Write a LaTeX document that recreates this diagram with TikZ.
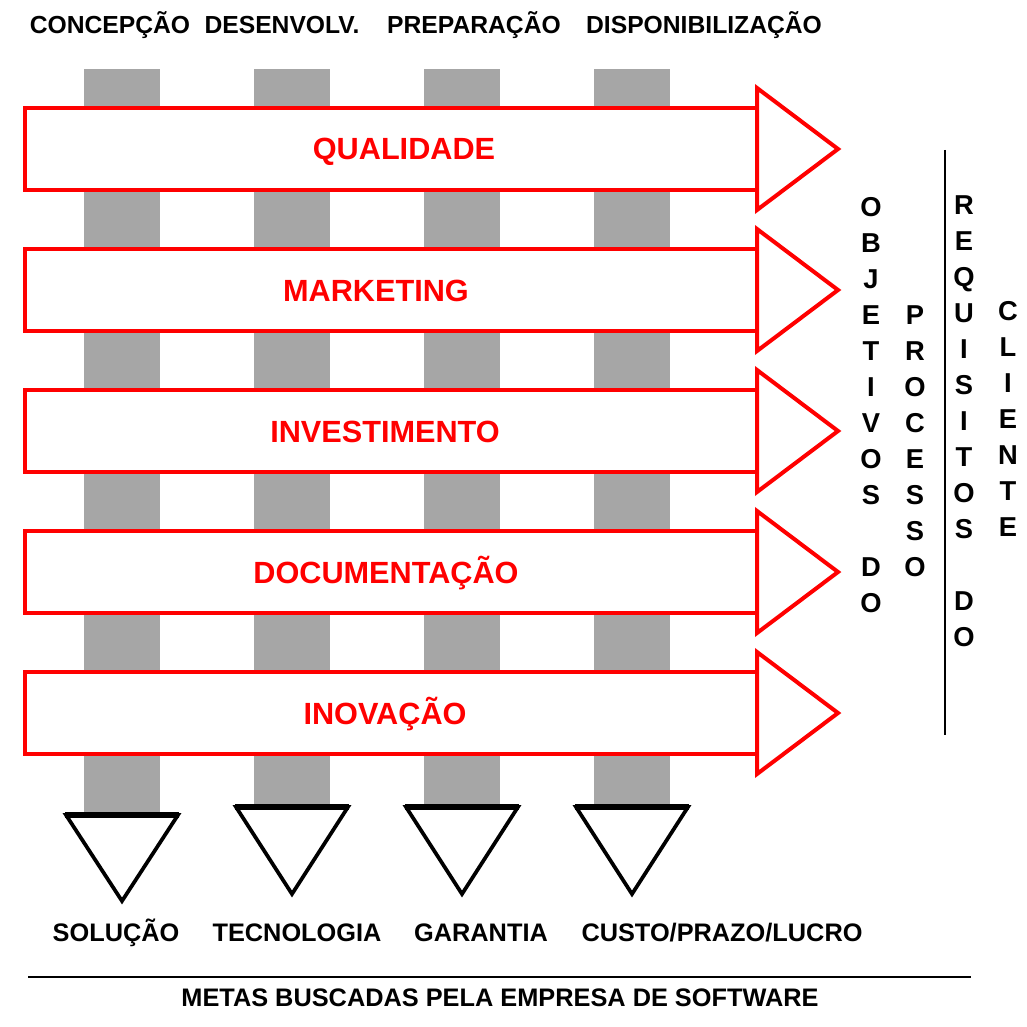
\documentclass[tikz,border=0pt]{standalone}
\usepackage{fontspec}
\setmainfont{Liberation Sans}
\usepackage{xcolor}
\usepackage{tikz}
\definecolor{bg}{HTML}{FFFFFF}
\definecolor{ink}{HTML}{000000}
\definecolor{goalred}{HTML}{FF0000}
\definecolor{phasegray}{HTML}{A6A6A6}
\tikzset{
  phaseBar/.style={fill=phasegray, draw=none},
  goalArrow/.style={draw=goalred, fill=bg, line width=3pt, line join=miter},
  funnel/.style={draw=ink, fill=bg, line width=2.8pt, line join=miter},
  goalLbl/.style={text=goalred, anchor=base, inner sep=0pt, font=\fontsize{23}{26}\selectfont\bfseries},
  phaseLbl/.style={text=ink, anchor=base, inner sep=0pt, font=\fontsize{18.5}{22}\selectfont\bfseries},
  aimLbl/.style={text=ink, anchor=base, inner sep=0pt, font=\fontsize{19}{22}\selectfont\bfseries},
  vertLbl/.style={text=ink, anchor=north, inner sep=0pt, align=center, font=\fontsize{20.5}{27}\selectfont\bfseries},
  rule/.style={draw=ink, line width=1.6pt},
}
\newcommand{\GoalArrow}[1]{% #1 = y centre (px)
  \draw[goalArrow] (25,#1-41) rectangle (757,#1+41);
  \draw[goalArrow] (757,#1-61) -- (838,#1) -- (757,#1+61) -- cycle;
}
\newcommand{\Funnel}[3]{% #1 = x centre, #2 = top, #3 = apex
  \draw[funnel] (#1-56,#2) -- (#1+56,#2) -- (#1,#3) -- cycle;
  \draw[ink, line width=4pt] (#1-57,#2) -- (#1+57,#2);
}

\begin{document}
\begin{tikzpicture}[x=0.75pt, y=-0.75pt]
  \fill[bg] (0,0) rectangle (1027,1027);
  \useasboundingbox (0,0) rectangle (1027,1027);

  % phases (gray columns)
  \fill[phaseBar] (84,69)  rectangle (160,815);
  \fill[phaseBar] (254,69) rectangle (330,807);
  \fill[phaseBar] (424,69) rectangle (500,807);
  \fill[phaseBar] (594,69) rectangle (670,807);

  \node[phaseLbl] (concepcao) at (110,34) {CONCEPÇÃO};
  \node[phaseLbl] (desenv)    at (282,34) {DESENVOLV.};
  \node[phaseLbl] (prepar)    at (474,34) {PREPARAÇÃO};
  \node[phaseLbl] (dispon)    at (704,34) {DISPONIBILIZAÇÃO};

  % goals (red arrows)
  \GoalArrow{149}
  \GoalArrow{290}
  \GoalArrow{431}
  \GoalArrow{572}
  \GoalArrow{713}

  \node[goalLbl] (qualidade) at (404,160) {QUALIDADE};
  \node[goalLbl] (marketing) at (376,301) {MARKETING};
  \node[goalLbl] (invest)    at (385,442) {INVESTIMENTO};
  \node[goalLbl] (docum)     at (386,583) {DOCUMENTAÇÃO};
  \node[goalLbl] (inovacao)  at (385,724) {INOVAÇÃO};

  % aims (funnels)
  \Funnel{122}{815}{901}
  \Funnel{292}{807}{894}
  \Funnel{462}{807}{894}
  \Funnel{632}{807}{894}

  \node[aimLbl] (solucao)    at (116,941) {SOLUÇÃO};
  \node[aimLbl] (tecnologia) at (297,941) {TECNOLOGIA};
  \node[aimLbl] (garantia)   at (481,941) {GARANTIA};
  \node[aimLbl] (custo)      at (722,941) {CUSTO/PRAZO/LUCRO};

  \draw[rule] (28,977) -- (971,977);
  \node[aimLbl] (metas) at (500,1006) {METAS BUSCADAS PELA EMPRESA DE SOFTWARE};

  % right side, vertical words
  \draw[ink, line width=1.4pt] (945,150) -- (945,735);
  \node[vertLbl] (objetivos) at (871,197) {O\\B\\J\\E\\T\\I\\V\\O\\S\\[27pt]D\\O};
  \node[vertLbl] (processo)  at (915,305) {P\\R\\O\\C\\E\\S\\S\\O};
  \node[vertLbl] (requisitos) at (964,195) {R\\E\\Q\\U\\I\\S\\I\\T\\O\\S\\[27pt]D\\O};
  \node[vertLbl] (cliente)   at (1008,301) {C\\L\\I\\E\\N\\T\\E};
\end{tikzpicture}
\end{document}
